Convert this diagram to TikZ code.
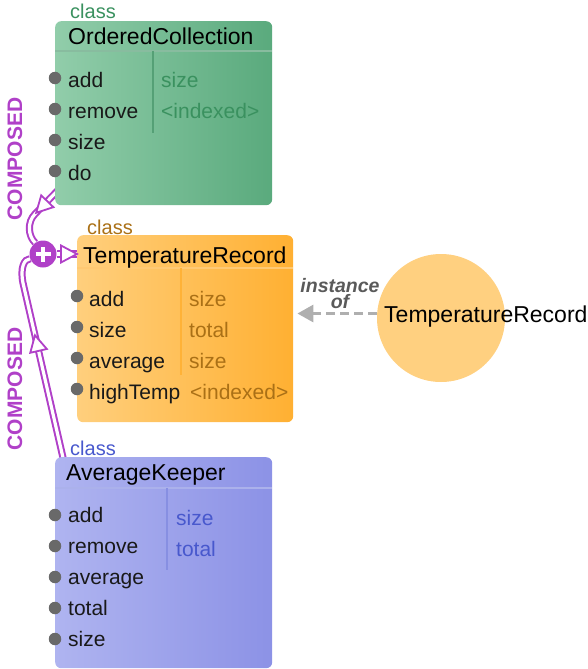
\documentclass[tikz,border=0pt]{standalone}
\usepackage{fontspec}
\setmainfont{Liberation Sans}
\usetikzlibrary{arrows.meta,decorations.markings,backgrounds}

\definecolor{composedPurple}{RGB}{176,64,200}
\definecolor{dotGray}{RGB}{105,105,105}
\definecolor{ocLeft}{RGB}{145,205,170}
\definecolor{ocMid}{RGB}{210,236,222}
\definecolor{ocRight}{RGB}{90,170,125}
\definecolor{ocInk}{RGB}{58,145,95}
\definecolor{ocLine}{RGB}{85,160,118}
\definecolor{trLeft}{RGB}{255,207,125}
\definecolor{trMid}{RGB}{255,237,207}
\definecolor{trRight}{RGB}{255,176,50}
\definecolor{trInk}{RGB}{170,112,22}
\definecolor{trLine}{RGB}{255,178,55}
\definecolor{akLeft}{RGB}{175,180,240}
\definecolor{akMid}{RGB}{222,224,250}
\definecolor{akRight}{RGB}{140,146,230}
\definecolor{akInk}{RGB}{72,88,205}
\definecolor{akLine}{RGB}{135,143,226}
\definecolor{objOrange}{RGB}{255,208,128}
\definecolor{arrowGray}{RGB}{175,175,175}
\definecolor{labelGray}{RGB}{90,90,90}

\begin{document}
\begin{tikzpicture}[x=1pt, y=-1pt,
    classBox/.style={rounded corners=6pt, inner sep=0pt, anchor=north west, minimum width=217pt},
    ocBox/.style={classBox, left color=ocLeft, middle color=ocMid, right color=ocRight, minimum height=184pt},
    trBoxStyle/.style={classBox, left color=trLeft, middle color=trMid, right color=trRight, minimum width=216pt, minimum height=187pt},
    akBox/.style={classBox, left color=akLeft, middle color=akMid, right color=akRight, minimum height=211pt},
    classTag/.style={anchor=base west, inner sep=0pt, font=\fontsize{20}{24}\selectfont},
    classTitle/.style={anchor=base west, inner sep=0pt, font=\fontsize{23}{27}\selectfont},
    methodText/.style={anchor=base west, inner sep=0pt, text=black!90, font=\fontsize{21}{25}\selectfont},
    methodDot/.style={circle, fill=dotGray, minimum size=12.5pt, inner sep=0pt},
    ruleLine/.style={line width=2.5pt},
    objCircle/.style={circle, fill=objOrange, minimum size=128pt, inner sep=0pt},
    instanceArrow/.style={draw=arrowGray, line width=3pt, dash pattern=on 9pt off 5pt, -{Triangle[length=16pt, width=17pt]}},
    instanceLabel/.style={align=center, inner sep=0pt, text=labelGray, font=\bfseries\itshape\fontsize{19.5}{16}\selectfont},
    composedLabel/.style={rotate=90, inner sep=0pt, text=composedPurple, font=\bfseries\fontsize{21}{25}\selectfont},
    composedLine/.style={draw=composedPurple, line width=2pt, double=white, double distance=3.2pt},
    composedTip/.style={draw=composedPurple, fill=white, line width=1.8pt, line join=miter},
    midTip/.style={postaction={decorate, decoration={markings, mark=at position #1 with {\draw[composedTip] (0pt,0pt) -- (-16pt,8.5pt) -- (-16pt,-8.5pt) -- cycle;}}}},
    plusNode/.style={circle, fill=composedPurple, minimum size=27pt, inner sep=0pt,
        path picture={\draw[white, line width=3.8pt]
            ([xshift=-7.5pt]path picture bounding box.center) -- ([xshift=7.5pt]path picture bounding box.center)
            ([yshift=-7.5pt]path picture bounding box.center) -- ([yshift=7.5pt]path picture bounding box.center);}}
]
\useasboundingbox (0,0) rectangle (588,669);

% OrderedCollection
\node[ocBox] (oc) at (55,21) {};
\draw[ruleLine, ocLine!70] (55,51) -- (272,51);
\draw[ruleLine, ocLine] (153,51) -- (153,133);
\node[classTag, text=ocInk] (ocTag) at (70,19) {class};
\node[classTitle] (ocTitle) at (68,45) {OrderedCollection};
\node[methodDot] (ocDotA) at (55,78) {};
\node[methodDot] (ocDotB) at (55,109) {};
\node[methodDot] (ocDotC) at (55,140) {};
\node[methodDot] (ocDotD) at (55,171) {};
\node[methodText] (ocAdd) at (68,87) {add};
\node[methodText] (ocRemove) at (68,118) {remove};
\node[methodText] (ocSize) at (68,149) {size};
\node[methodText] (ocDo) at (68,180) {do};
\node[methodText, text=ocInk] (ocVarSize) at (161,87) {size};
\node[methodText, text=ocInk] (ocVarIdx) at (161,118) {<indexed>};

% TemperatureRecord
\node[trBoxStyle] (trBox) at (77,235) {};
\draw[ruleLine, trLine!70] (77,268) -- (293,268);
\draw[ruleLine, trLine] (181,268) -- (181,375);
\node[classTag, text=trInk] (trTag) at (87,234) {class};
\node[classTitle] (trTitle) at (83,263) {TemperatureRecord};
\node[methodDot] (trDotA) at (77,296) {};
\node[methodDot] (trDotB) at (77,327) {};
\node[methodDot] (trDotC) at (77,358) {};
\node[methodDot] (trDotD) at (77,389) {};
\node[methodText] (trAdd) at (89,306) {add};
\node[methodText] (trSize) at (89,337) {size};
\node[methodText] (trAverage) at (89,368) {average};
\node[methodText] (trHighTemp) at (89,399) {highTemp};
\node[methodText, text=trInk] (trVarSize) at (189,306) {size};
\node[methodText, text=trInk] (trVarTotal) at (189,337) {total};
\node[methodText, text=trInk] (trVarSizeB) at (189,368) {size};
\node[methodText, text=trInk] (trVarIdx) at (190,399) {<indexed>};

% AverageKeeper
\node[akBox] (ak) at (55,457) {};
\draw[ruleLine, akLine!70] (55,488) -- (272,488);
\draw[ruleLine, akLine] (167,488) -- (167,570);
\node[classTag, text=akInk] (akTag) at (70,455) {class};
\node[classTitle] (akTitle) at (66,480) {AverageKeeper};
\node[methodDot] (akDotA) at (55,515) {};
\node[methodDot] (akDotB) at (55,546) {};
\node[methodDot] (akDotC) at (55,577) {};
\node[methodDot] (akDotD) at (55,608) {};
\node[methodDot] (akDotE) at (55,639) {};
\node[methodText] (akAdd) at (68,522) {add};
\node[methodText] (akRemove) at (68,553) {remove};
\node[methodText] (akAverage) at (68,584) {average};
\node[methodText] (akTotal) at (68,615) {total};
\node[methodText] (akSize) at (68,646) {size};
\node[methodText, text=akInk] (akVarSize) at (176,525) {size};
\node[methodText, text=akInk] (akVarTotal) at (176,556) {total};

% composition links
\node[plusNode] (plus) at (43,254) {};
\begin{pgfonlayer}{background}
\coordinate (ocExit) at (64,184);
\coordinate (ocBend) at (35,214);
\draw[composedLine, midTip=40pt] (ocExit) -- (ocBend) .. controls (27,222) and (28,236) .. (plus.125);
\coordinate (akExit) at (64,462);
\coordinate (akBend) at (23,283);
\draw[composedLine, midTip=130pt] (akExit) -- (akBend) .. controls (20,268) and (24,259) .. (plus.200);
\end{pgfonlayer}
\draw[composedLine, midTip=1] (plus) -- (trBox.west |- plus);
\node[composedLabel] (ocComposed) at (15,159) {COMPOSED};
\node[composedLabel] (akComposed) at (15,389) {COMPOSED};

% instance
\node[objCircle] (trObj) at (441,318) {};
\node[anchor=base west, inner sep=0pt, font=\fontsize{23}{27}\selectfont] (trObjName) at (384,322) {TemperatureRecord};
\draw[instanceArrow] (trObj.176) -- ([xshift=4pt]trBox.east |- trObj.176);
\node[instanceLabel, anchor=base] (instOf) at (340,308) {instance\\of};
\end{tikzpicture}
\end{document}
